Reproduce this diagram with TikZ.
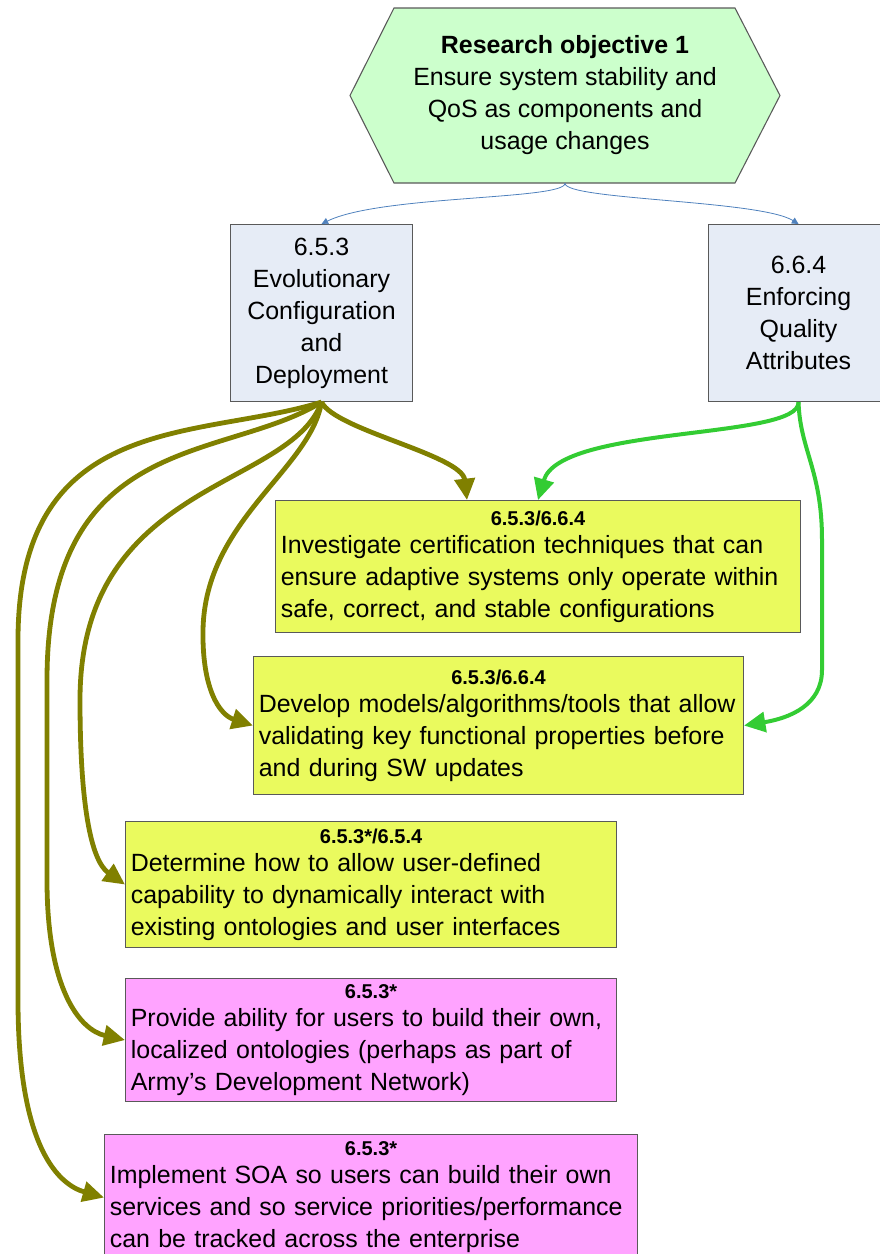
\documentclass[tikz,border=0pt]{standalone}
\usepackage{fontspec}
\setmainfont{Liberation Sans}
\usetikzlibrary{arrows.meta,calc}
\definecolor{hexgreen}{RGB}{204,255,204}
\definecolor{greyblue}{RGB}{230,236,246}
\definecolor{lemon}{RGB}{234,250,94}
\definecolor{pinkbox}{RGB}{255,163,255}
\definecolor{oliveline}{RGB}{128,128,0}
\definecolor{greenline}{RGB}{51,204,51}
\definecolor{blueline}{RGB}{79,129,189}
\newcommand{\boxtitle}[1]{\makebox[\linewidth]{\fontsize{15}{17}\selectfont\bfseries #1}\\[-3pt]}

\begin{document}
\begin{tikzpicture}[x=0.75pt,y=-0.75pt,
	txt/.style={font=\fontsize{18.7}{24}\selectfont},
	topic/.style={txt,draw=black!65,fill=greyblue,line width=0.8pt,align=center,minimum height=132.75pt},
	task/.style={txt,draw=black!65,line width=0.8pt,anchor=north west,align=left,inner sep=4pt},
	olv/.style={oliveline,line width=3.6pt,-{Triangle[length=16pt,width=15pt]}},
	grn/.style={greenline,line width=3pt,-{Triangle[length=16pt,width=15pt]}},
	blu/.style={blueline,line width=0.6pt,-{Triangle[length=5pt,width=5pt]}}]
	\useasboundingbox (0,0) rectangle (880,1254);
	\draw[fill=hexgreen,draw=black!65,line width=0.8pt] (350,95.5) -- (394,8) -- (735,8) -- (780,95.5) -- (735,183) -- (394,183) -- cycle;
	\node[txt,align=center,minimum height=131.25pt] (obj) at (565,95.5) {\textbf{Research objective 1}\\Ensure system stability and\\QoS as components and\\usage changes};
	\node[topic,minimum width=136.5pt,anchor=north west] (evo) at (230,224) {6.5.3\\Evolutionary\\Configuration\\and\\Deployment};
	\node[topic,minimum width=135pt,anchor=north west] (qual) at (708,224) {6.6.4\\Enforcing\\Quality\\Attributes};
	\node[task,fill=lemon,text width=385.75pt,minimum height=99pt] (inv) at (275,500) {\boxtitle{6.5.3/6.6.4}Investigate certification techniques that can\\ensure adaptive systems only operate within\\safe, correct, and stable configurations};
	\node[task,fill=lemon,text width=359.5pt,minimum height=103.5pt] (dev) at (253,656) {\boxtitle{6.5.3/6.6.4}Develop models/algorithms/tools that allow\\validating key functional properties before\\and during SW updates};
	\node[task,fill=lemon,text width=360.25pt,minimum height=94.5pt] (det) at (125,821) {\boxtitle{6.5.3*/6.5.4}Determine how to allow user-defined\\capability to dynamically interact with\\existing ontologies and user interfaces};
	\node[task,fill=pinkbox,text width=360.25pt,minimum height=92.25pt] (prov) at (125,978) {\boxtitle{6.5.3*}Provide ability for users to build their own,\\localized ontologies (perhaps as part of\\Army’s Development Network)};
	\node[task,fill=pinkbox,text width=391.75pt,minimum height=94.5pt] (impl) at (104,1134) {\boxtitle{6.5.3*}Implement SOA so users can build their own\\services and so service priorities/performance\\can be tracked across the enterprise};
	\draw[blu] (obj.south) .. controls (565,200) and (380,195) .. (evo.north);
	\draw[blu] (obj.south) .. controls (565,200) and (760,200) .. (qual.north);
	\draw[olv] (evo.south) .. controls (335,430) and (462,455) .. ($(inv.north west)+(192,0)$);
	\draw[olv] (evo.south) .. controls (310,470) and (205,520) .. (203,630) .. controls (202,690) and (220,715) .. (dev.west);
	\draw[olv] (evo.south) .. controls (290,490) and (80,480) .. (80,700) .. controls (80,800) and (90,860) .. (det.west);
	\draw[olv] (evo.south) .. controls (225,462) and (47,430) .. (47,680) -- (47,880) .. controls (47,990) and (80,1030) .. (prov.west);
	\draw[olv] (evo.south) .. controls (200,440) and (18,410) .. (18,640) -- (18,1000) .. controls (18,1150) and (60,1185) .. (impl.west);
	\draw[grn] (qual.south) .. controls (800,440) and (560,425) .. (inv.north);
	\draw[grn] (qual.south) .. controls (800,450) and (822,470) .. (822,540) -- (822,670) .. controls (822,705) and (790,718) .. (dev.east);
\end{tikzpicture}
\end{document}
